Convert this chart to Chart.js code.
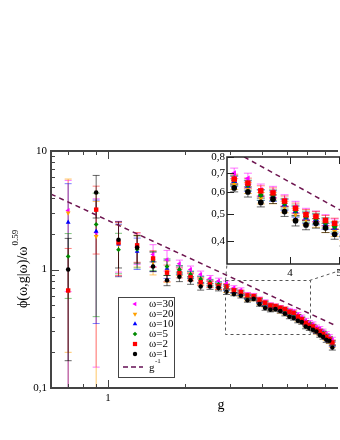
<!DOCTYPE html>
<html><head><meta charset="utf-8">
<script src="https://cdn.jsdelivr.net/npm/chart.js@4.4.1/dist/chart.umd.min.js"></script>
<style>
html,body{margin:0;padding:0;background:#fff;overflow:hidden;width:340px;height:440px}
#wrap{position:relative;width:340px;height:440px;overflow:hidden;background:#fff}
#main{position:absolute;left:0;top:0}
#inset{position:absolute;left:195px;top:145px}
</style></head><body>
<div id="wrap"><canvas id="main" width="340" height="440"></canvas><canvas id="inset" width="175" height="140"></canvas></div>
<script>
// ---- data ----
const gValues = [0.7,0.9,1.1,1.3,1.5,1.7,1.9,2.1,2.3,2.5,2.7,2.9,3.1,3.3,3.5,3.7,3.9,4.1,4.3,4.5,4.7,4.9,5.1,5.3,5.5,5.7,5.9,6.1,6.3,6.5,6.7,6.9,7.1,7.3,7.5];
const phiW30 = [3.15,2.05,1.75,1.55,1.34,1.21,1.12,1.0,0.91,0.84,0.80,0.76,0.70,0.67,0.61,0.60,0.56,0.53,0.50,0.49,0.475,0.46,0.45,0.44,0.415,0.395,0.37,0.355,0.345,0.325,0.315,0.30,0.285,0.27,0.255];
const errW30 = [2.5,1.9,0.8,0.45,0.28,0.24,0.08,0.07,0.06,0.05,0.045,0.04,0.03,0.03,0.03,0.028,0.026,0.025,0.024,0.022,0.022,0.02,0.02,0.02,0.018,0.018,0.017,0.016,0.016,0.015,0.015,0.014,0.014,0.013,0.013];
const phiW20 = [3.0,1.9,1.62,1.50,1.15,0.98,0.97,0.88,0.80,0.76,0.72,0.68,0.64,0.62,0.57,0.57,0.53,0.50,0.48,0.47,0.45,0.435,0.42,0.41,0.385,0.37,0.345,0.33,0.32,0.30,0.29,0.28,0.265,0.25,0.232];
const errW20 = [2.8,1.85,0.75,0.45,0.25,0.2,0.08,0.065,0.055,0.05,0.04,0.04,0.028,0.028,0.027,0.026,0.025,0.024,0.023,0.022,0.021,0.02,0.019,0.019,0.018,0.017,0.017,0.016,0.015,0.015,0.014,0.014,0.013,0.013,0.012];
const phiW10 = [2.5,2.1,1.64,1.42,1.18,1.02,0.99,0.90,0.82,0.77,0.74,0.70,0.655,0.63,0.585,0.58,0.54,0.51,0.485,0.478,0.46,0.445,0.43,0.415,0.395,0.375,0.35,0.335,0.325,0.305,0.295,0.285,0.27,0.255,0.236];
const errW10 = [2.8,1.75,0.77,0.42,0.22,0.18,0.08,0.06,0.055,0.045,0.04,0.038,0.027,0.027,0.026,0.025,0.024,0.023,0.022,0.021,0.02,0.02,0.019,0.018,0.018,0.017,0.016,0.016,0.015,0.015,0.014,0.014,0.013,0.013,0.012];
const phiW5 = [1.29,2.4,1.47,1.48,1.20,1.06,1.00,0.91,0.83,0.78,0.75,0.71,0.66,0.635,0.585,0.585,0.545,0.515,0.49,0.482,0.465,0.45,0.435,0.42,0.40,0.38,0.355,0.34,0.33,0.31,0.30,0.29,0.275,0.26,0.24];
const errW5 = [0.72,2.0,0.55,0.45,0.22,0.17,0.08,0.06,0.05,0.045,0.04,0.037,0.027,0.026,0.025,0.025,0.024,0.023,0.022,0.021,0.02,0.019,0.019,0.018,0.017,0.017,0.016,0.016,0.015,0.015,0.014,0.014,0.013,0.013,0.012];
const phiW2 = [0.665,3.2,1.69,1.60,1.24,0.94,0.93,0.86,0.78,0.75,0.72,0.72,0.667,0.645,0.605,0.595,0.556,0.524,0.497,0.49,0.474,0.463,0.44,0.43,0.40,0.38,0.355,0.34,0.33,0.31,0.30,0.285,0.27,0.258,0.242];
const errW2 = [0.84,1.85,0.8,0.45,0.2,0.15,0.08,0.06,0.05,0.045,0.04,0.037,0.027,0.027,0.026,0.025,0.024,0.023,0.022,0.021,0.02,0.02,0.019,0.018,0.018,0.017,0.016,0.016,0.015,0.015,0.014,0.014,0.013,0.013,0.012];
const phiW1 = [1.0,4.47,1.78,1.53,1.06,0.81,0.87,0.81,0.72,0.72,0.70,0.65,0.62,0.60,0.55,0.565,0.51,0.473,0.457,0.463,0.446,0.423,0.40,0.39,0.37,0.36,0.33,0.32,0.31,0.30,0.28,0.27,0.255,0.25,0.22];
const errW1 = [0.83,1.75,0.75,0.4,0.1,0.08,0.08,0.06,0.05,0.04,0.04,0.035,0.02,0.025,0.02,0.02,0.02,0.02,0.018,0.018,0.017,0.017,0.016,0.016,0.015,0.015,0.014,0.014,0.013,0.013,0.012,0.012,0.012,0.011,0.011];
const refG = [0.6, 7.75];
const refPhi = [4.33, 0.335];
const seriesLabels = ['ω=30','ω=20','ω=10','ω=5','ω=2','ω=1'];
const refLabel = 'g';
const refExp = '-1';
const yTickValues = [0.1, 1, 10];
const yTickLabels = ['0,1', '1', '10'];
const yMinorTicks = [0.2,0.3,0.4,0.5,0.6,0.7,0.8,0.9,2,3,4,5,6,7,8,9];
const xTickValues = [1];
const xTickLabels = ['1'];
const xMinorTicks = [0.7,0.8,0.9,2,3,4,5,6,7];
const insetXTickValues = [4, 5];
const insetXTickLabels = ['4', '5'];
const insetYTickValues = [0.4, 0.5, 0.6, 0.7, 0.8];
const insetYTickLabels = ['0,4', '0,5', '0,6', '0,7', '0,8'];
const zoomBoxG = [2.85, 6.1];
const zoomBoxPhi = [0.286, 0.815];
const xTitle = 'g';
const yTitle = 'ϕ(ω,g|ω)/ω';
const yTitleExp = '0.59';

// ---- styling ----
const serif = "'Liberation Serif','DejaVu Serif','Times New Roman',serif";
const series = [
  {values: phiW30, errors: errW30, color: '#ff00ff', err: 'rgba(255,0,255,0.55)', style: 'triangle', rot: -90, k: 1.15},
  {values: phiW20, errors: errW20, color: '#ffa000', err: 'rgba(255,160,0,0.6)', style: 'triangle', rot: 180, k: 1.15},
  {values: phiW10, errors: errW10, color: '#0000ff', err: 'rgba(0,0,255,0.5)', style: 'triangle', rot: 0, k: 1.15},
  {values: phiW5, errors: errW5, color: '#008a00', err: 'rgba(0,138,0,0.5)', style: 'rectRot', rot: 0, k: 1.0},
  {values: phiW2, errors: errW2, color: '#ff0000', err: 'rgba(255,0,0,0.5)', style: 'rect', rot: 0, k: 1.3},
  {values: phiW1, errors: errW1, color: '#000000', err: 'rgba(0,0,0,0.6)', style: 'circle', rot: 0, k: 0.95}
];
const refColor = '#6e1550';

function buildDatasets(r) {
  const ds = series.map((s, si) => ({
    label: seriesLabels[si],
    data: gValues.map((g, i) => ({x: g, y: s.values[i]})),
    pointStyle: s.style, pointRotation: s.rot, pointRadius: r * s.k,
    backgroundColor: s.color, borderColor: s.color, borderWidth: 0,
    showLine: false
  })).reverse();
  ds.push({
    label: 'ref', data: refG.map((g, i) => ({x: g, y: refPhi[i]})),
    showLine: true, borderColor: refColor, borderWidth: 1.5, borderDash: [5, 4],
    pointRadius: 0, fill: false
  });
  return ds;
}

function drawErrors(chart, cap) {
  const {ctx, chartArea: a, scales: {x, y}} = chart;
  ctx.save();
  ctx.beginPath(); ctx.rect(a.left, a.top, a.right - a.left, a.bottom - a.top); ctx.clip();
  ctx.lineWidth = 1;
  series.forEach(s => {
    ctx.strokeStyle = s.err;
    gValues.forEach((g, i) => {
      const v = s.values[i], e = s.errors[i];
      const px = x.getPixelForValue(g);
      const hi = y.getPixelForValue(v + e);
      const lo = v - e > 0 ? y.getPixelForValue(v - e) : a.bottom + 20;
      ctx.beginPath();
      ctx.moveTo(px, hi); ctx.lineTo(px, lo);
      ctx.moveTo(px - cap, hi); ctx.lineTo(px + cap, hi);
      if (v - e > 0) { ctx.moveTo(px - cap, lo); ctx.lineTo(px + cap, lo); }
      ctx.stroke();
    });
  });
  ctx.restore();
}

function line(ctx, x1, y1, x2, y2) { ctx.beginPath(); ctx.moveTo(x1, y1); ctx.lineTo(x2, y2); ctx.stroke(); }

function marker(ctx, style, rot, r, x, y, color) {
  ctx.save(); ctx.fillStyle = color; ctx.translate(x, y); ctx.rotate(rot * Math.PI / 180); ctx.beginPath();
  if (style === 'circle') ctx.arc(0, 0, r, 0, 2 * Math.PI);
  else if (style === 'rect') ctx.rect(-r * 0.707, -r * 0.707, r * 1.414, r * 1.414);
  else if (style === 'rectRot') { ctx.moveTo(0, -r); ctx.lineTo(r, 0); ctx.lineTo(0, r); ctx.lineTo(-r, 0); ctx.closePath(); }
  else { ctx.moveTo(0, -r); ctx.lineTo(r * 0.866, r * 0.5); ctx.lineTo(-r * 0.866, r * 0.5); ctx.closePath(); }
  ctx.fill(); ctx.restore();
}

let insetBox = null;

const mainPlugin = {
  id: 'mainDecor',
  beforeDatasetsDraw(chart) { drawErrors(chart, 3.5); },
  afterDraw(chart) {
    const {ctx, chartArea: a, scales: {x, y}} = chart;
    ctx.save();
    // zoom box
    ctx.strokeStyle = '#555'; ctx.lineWidth = 1; ctx.setLineDash([3, 3]);
    const bx1 = x.getPixelForValue(zoomBoxG[0]), bx2 = x.getPixelForValue(zoomBoxG[1]);
    const by1 = y.getPixelForValue(zoomBoxPhi[1]), by2 = y.getPixelForValue(zoomBoxPhi[0]);
    ctx.strokeRect(Math.round(bx1) + 0.5, Math.round(by1) + 0.5, Math.round(bx2 - bx1), Math.round(by2 - by1));
    if (insetBox) {
      line(ctx, Math.round(bx1) + 0.5, Math.round(by1) + 0.5, insetBox.left, insetBox.bottom);
      line(ctx, Math.round(bx2) + 0.5, Math.round(by1) + 0.5, insetBox.right, insetBox.bottom);
    }
    ctx.setLineDash([]);
    // frame
    ctx.strokeStyle = '#444'; ctx.lineWidth = 2;
    ctx.beginPath();
    ctx.moveTo(a.right + 2, a.top); ctx.lineTo(a.left, a.top); ctx.lineTo(a.left, a.bottom); ctx.lineTo(a.right + 2, a.bottom);
    ctx.stroke();
    // ticks
    ctx.lineWidth = 1;
    yMinorTicks.forEach(v => { const p = Math.round(y.getPixelForValue(v)) + 0.5; line(ctx, a.left, p, a.left + 4, p); });
    yTickValues.forEach(v => { const p = Math.round(y.getPixelForValue(v)) + 0.5; line(ctx, a.left, p, a.left + 8, p); });
    xMinorTicks.forEach(v => { const p = Math.round(x.getPixelForValue(v)) + 0.5; line(ctx, p, a.bottom, p, a.bottom - 4); line(ctx, p, a.top, p, a.top + 4); });
    xTickValues.forEach(v => { const p = Math.round(x.getPixelForValue(v)) + 0.5; line(ctx, p, a.bottom, p, a.bottom - 8); line(ctx, p, a.top, p, a.top + 8); });
    // legend
    const lx = 118, ly = 297;
    ctx.fillStyle = '#fff'; ctx.fillRect(lx, ly, 56, 80);
    ctx.strokeStyle = '#444'; ctx.lineWidth = 1; ctx.strokeRect(lx + 0.5, ly + 0.5, 56, 80);
    ctx.font = '11px ' + serif; ctx.textBaseline = 'middle'; ctx.textAlign = 'left'; ctx.fillStyle = '#000';
    series.forEach((s, i) => {
      const yy = 304 + i * 10;
      marker(ctx, s.style, s.rot, 2.3 * s.k, 135, yy, s.color);
      ctx.fillStyle = '#000';
      ctx.fillText(seriesLabels[i], 149, yy + 0.5);
    });
    ctx.strokeStyle = '#8a4a7e'; ctx.lineWidth = 2; ctx.setLineDash([5, 3]);
    line(ctx, 123, 367, 143, 367); ctx.setLineDash([]);
    ctx.fillStyle = '#000';
    ctx.fillText(refLabel, 149, 368);
    ctx.font = '7px ' + serif; ctx.fillText(refExp, 155, 361);
    // titles
    ctx.font = '14px ' + serif; ctx.textAlign = 'center'; ctx.textBaseline = 'alphabetic';
    ctx.fillText(xTitle, 221, 409);
    ctx.save(); ctx.translate(27, 308); ctx.rotate(-Math.PI / 2);
    ctx.textAlign = 'left'; ctx.font = '14px ' + serif;
    ctx.fillText(yTitle, 0, 0);
    const w = ctx.measureText(yTitle).width;
    ctx.font = '9px ' + serif; ctx.fillText(yTitleExp, w + 1, -9);
    ctx.restore();
    ctx.restore();
  }
};

const tickFont = {family: serif, size: 11};
const mainChart = new Chart(document.getElementById('main'), {
  type: 'scatter',
  data: {datasets: buildDatasets(2.4)},
  options: {
    responsive: false, animation: false, devicePixelRatio: 1,
    layout: {padding: {left: 0, right: 0, top: 151, bottom: 32}},
    plugins: {legend: {display: false}, tooltip: {enabled: false}},
    scales: {
      x: {type: 'logarithmic', min: 0.6, max: 7.75, position: 'bottom',
        grid: {display: false, drawTicks: false}, border: {display: false},
        afterBuildTicks: s => { s.ticks = xTickValues.map(v => ({value: v})); },
        afterFit: s => { s.height = 20; },
        ticks: {callback: (v, i) => xTickLabels[i], font: tickFont, color: '#000', padding: 4, autoSkip: false, maxRotation: 0}},
      y: {type: 'logarithmic', min: 0.1, max: 10, position: 'left',
        grid: {display: false, drawTicks: false}, border: {display: false},
        afterBuildTicks: s => { s.ticks = yTickValues.map(v => ({value: v})); },
        afterFit: s => { s.width = 51; },
        ticks: {callback: (v, i) => yTickLabels[i], font: tickFont, color: '#000', padding: 4, autoSkip: false}}
    }
  },
  plugins: [mainPlugin]
});

const insetPlugin = {
  id: 'insetDecor',
  beforeDraw(chart) {
    const {ctx, chartArea: a} = chart;
    ctx.save(); ctx.fillStyle = '#fff'; ctx.fillRect(a.left, a.top, a.right - a.left, a.bottom - a.top); ctx.restore();
  },
  beforeDatasetsDraw(chart) { drawErrors(chart, 4); },
  afterDraw(chart) {
    const {ctx, chartArea: a, scales: {x, y}} = chart;
    ctx.save();
    ctx.strokeStyle = '#222'; ctx.lineWidth = 1.5;
    ctx.strokeRect(a.left, a.top, a.right - a.left, a.bottom - a.top);
    ctx.lineWidth = 1;
    insetYTickValues.forEach(v => { const p = Math.round(y.getPixelForValue(v)) + 0.5; line(ctx, a.left, p, a.left + 7, p); });
    insetXTickValues.forEach(v => { const p = Math.round(x.getPixelForValue(v)) + 0.5; line(ctx, p, a.bottom, p, a.bottom - 7); line(ctx, p, a.top, p, a.top + 7); });
    ctx.restore();
  }
};

const insetTickFont = {family: serif, size: 11};
const insetChart = new Chart(document.getElementById('inset'), {
  type: 'scatter',
  data: {datasets: buildDatasets(3.0)},
  options: {
    responsive: false, animation: false, devicePixelRatio: 1,
    layout: {padding: {left: 0, right: 10, top: 12, bottom: 0}},
    plugins: {legend: {display: false}, tooltip: {enabled: false}},
    scales: {
      x: {type: 'logarithmic', min: 3.0, max: 5.5, position: 'bottom',
        grid: {display: false, drawTicks: false}, border: {display: false},
        afterBuildTicks: s => { s.ticks = insetXTickValues.map(v => ({value: v})); },
        afterFit: s => { s.height = 21; },
        ticks: {callback: (v, i) => insetXTickLabels[i], font: insetTickFont, color: '#000', padding: 3, autoSkip: false, maxRotation: 0}},
      y: {type: 'logarithmic', min: 0.331, max: 0.8, position: 'left',
        grid: {display: false, drawTicks: false}, border: {display: false},
        afterBuildTicks: s => { s.ticks = insetYTickValues.map(v => ({value: v})); },
        afterFit: s => { s.width = 32; },
        ticks: {callback: (v, i) => insetYTickLabels[i], font: insetTickFont, color: '#000', padding: 2, autoSkip: false}}
    }
  },
  plugins: [insetPlugin]
});

const ia = insetChart.chartArea;
insetBox = {left: 195 + ia.left, right: 195 + ia.right, top: 145 + ia.top, bottom: 145 + ia.bottom};
mainChart.draw();
</script>
</body></html>
